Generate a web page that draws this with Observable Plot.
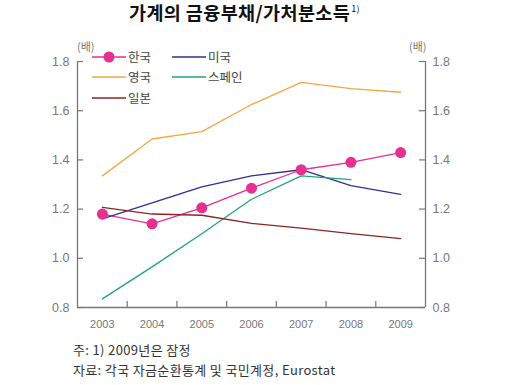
<!DOCTYPE html>
<html>
<head>
<meta charset="utf-8">
<script src="https://cdn.jsdelivr.net/npm/d3@7"></script>
<script src="https://cdn.jsdelivr.net/npm/@observablehq/plot@0.6"></script>
<style>
  body { margin: 0; background: #fff; }
  #wrap { position: relative; width: 510px; height: 385px; overflow: hidden; font-family: "Noto Sans CJK KR", "Noto Sans", sans-serif; }
  #chart { position: absolute; left: 0; top: 0; }
  .title { position: absolute; left: 129px; top: 1px; font-size: 18.5px; font-weight: bold; color: #111; white-space: nowrap; line-height: 22px; letter-spacing: 0.4px; }
  .title sup { font-size: 9px; font-weight: normal; vertical-align: top; position: relative; top: -3px; margin-left: 1px; }
  .unit { position: absolute; top: 38px; font-size: 11px; color: #777; }
  .legend { position: absolute; font-size: 12.5px; color: #444; white-space: nowrap; display: flex; align-items: center; line-height: 16px; }
  .legend svg { margin-right: 2px; }
  .note { position: absolute; left: 73px; font-size: 13px; color: #333; white-space: nowrap; line-height: 15px; height: 15px; letter-spacing: 0.35px; }
</style>
</head>
<body>
<div id="wrap">
  <div id="chart"></div>
  <div class="title">가계의 금융부채/가처분소득<sup>1)</sup></div>
  <div class="unit" style="left:77px">(배)</div>
  <div class="unit" style="left:409px">(배)</div>
  <div id="legend"></div>
  <div class="note" style="top:342px">주: 1) 2009년은 잠정</div>
  <div class="note" style="top:361.5px">자료: 각국 자금순환통계 및 국민계정, Eurostat</div>
</div>
<script>
const years = [2003, 2004, 2005, 2006, 2007, 2008, 2009];
const countries = ["한국", "미국", "영국", "스페인", "일본"];
const colors = ["#e6308f", "#2e3192", "#f5a840", "#1ea57d", "#8b2525"];
const korea = [1.18, 1.14, 1.205, 1.285, 1.36, 1.39, 1.43];
const usa   = [1.16, 1.225, 1.29, 1.335, 1.36, 1.295, 1.26];
const uk    = [1.335, 1.485, 1.515, 1.625, 1.715, 1.69, 1.675];
const spain = [0.835, 0.965, 1.10, 1.24, 1.335, 1.32, null];
const japan = [1.207, 1.18, 1.175, 1.142, 1.123, 1.10, 1.08];
const yTicks = [0.8, 1.0, 1.2, 1.4, 1.6, 1.8];

const series = [korea, usa, uk, spain, japan];
const rows = [];
series.forEach((vals, i) => vals.forEach((v, j) => {
  if (v != null) rows.push({country: countries[i], year: years[j], value: v});
}));
const koreaRows = rows.filter(d => d.country === "한국");
const bounds = years.slice(0, -1).map(y => y + 0.5);

const W = 510, H = 330, mL = 77, mR = 85, mT = 61, mB = 23;
const fw = W - mL - mR, fh = H - mT - mB;

const chart = Plot.plot({
  width: W, height: H,
  marginLeft: mL, marginRight: mR, marginTop: mT, marginBottom: mB,
  style: {fontFamily: "'Liberation Sans', Arial, sans-serif", fontSize: "12px", color: "#777", background: "transparent"},
  x: {domain: [2002.5, 2009.5], axis: null, label: null},
  y: {domain: [0.8, 1.8], axis: null, label: null},
  color: {domain: countries, range: colors},
  marks: [
    Plot.ruleY([0.8], {stroke: "#777", strokeWidth: 1.3}),
    Plot.ruleX([2002.5, 2009.5], {stroke: "#777", strokeWidth: 1.3}),
    Plot.tickY(yTicks, {y: d => d, insetRight: fw - 6, stroke: "#777", strokeWidth: 1.2}),
    Plot.tickY(yTicks, {y: d => d, insetLeft: fw - 6, stroke: "#777", strokeWidth: 1.2}),
    Plot.tickX(bounds, {x: d => d, insetTop: fh - 6, stroke: "#777", strokeWidth: 1.2}),
    Plot.axisY({anchor: "left", label: null, ticks: yTicks, tickSize: 0, tickPadding: 8, tickFormat: d => d.toFixed(1), fontSize: 12.5}),
    Plot.axisY({anchor: "right", label: null, ticks: yTicks, tickSize: 0, tickPadding: 7, tickFormat: d => d.toFixed(1), fontSize: 12.5}),
    Plot.axisX({label: null, ticks: years, tickSize: 0, tickPadding: 13, tickFormat: d => String(d), fontSize: 11, letterSpacing: -0.4}),
    Plot.line(rows, {x: "year", y: "value", z: "country", stroke: "country", strokeWidth: 1.3}),
    Plot.dot(koreaRows, {x: "year", y: "value", r: 5.5, fill: colors[0], stroke: "none"})
  ]
});
document.getElementById("chart").appendChild(chart);

// legend
const legendPos = [[92, 57], [172, 57], [92, 77], [172, 77], [92, 98]];
const leg = document.getElementById("legend");
countries.forEach((c, i) => {
  const [lx, ly] = legendPos[i];
  const div = document.createElement("div");
  div.className = "legend";
  div.style.left = lx + "px";
  div.style.top = (ly - 8) + "px";
  const dot = i === 0 ? `<circle cx="17" cy="8" r="5.5" fill="${colors[i]}"/>` : "";
  div.innerHTML = `<svg width="34" height="16"><line x1="0" y1="8" x2="34" y2="8" stroke="${colors[i]}" stroke-width="1.4"/>${dot}</svg><span>${c}</span>`;
  leg.appendChild(div);
});
</script>
</body>
</html>
